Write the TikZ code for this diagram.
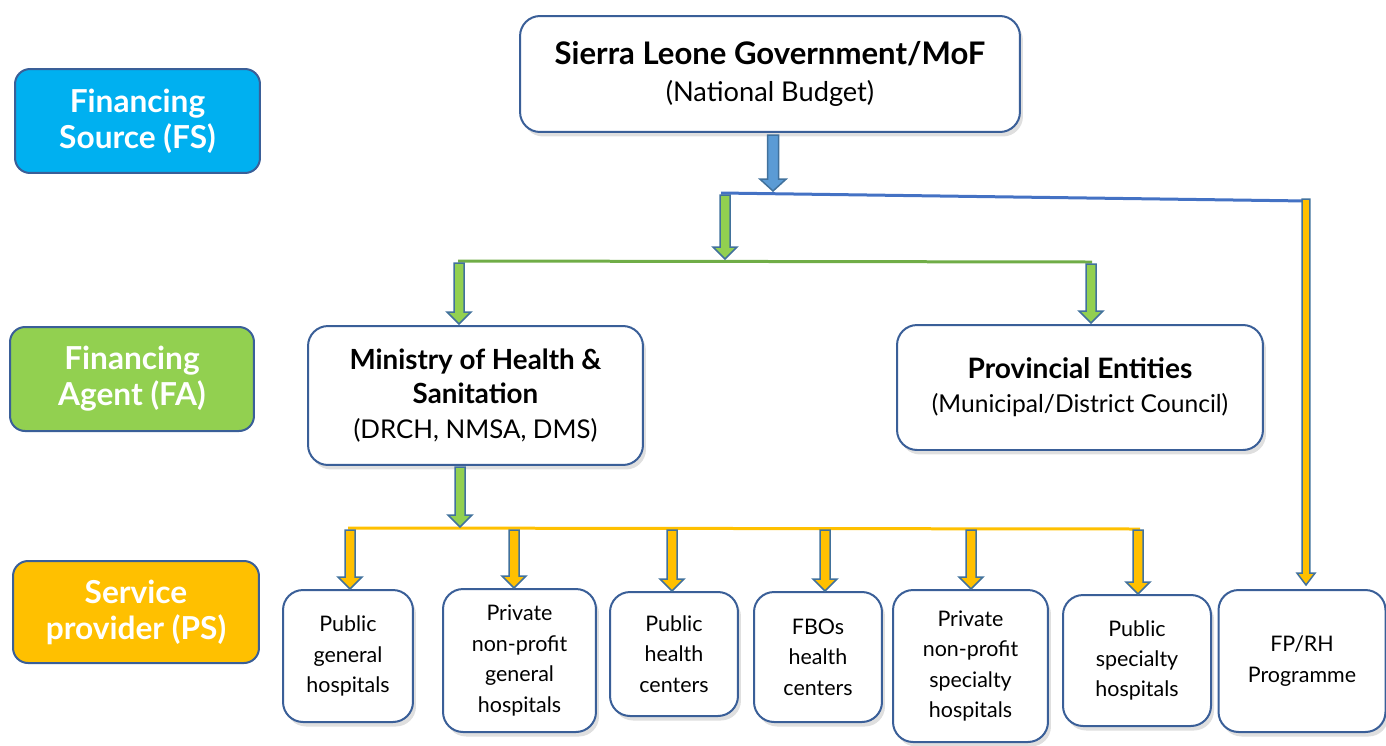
\documentclass[tikz,border=0pt]{standalone}
\usepackage{fontspec}
\setmainfont{Lato}
\usetikzlibrary{calc,shadows,positioning}
\definecolor{BoxEdge}{HTML}{3A5F98}
\definecolor{ArrowEdge}{HTML}{41719C}
\definecolor{FSBlue}{HTML}{00B0F0}
\definecolor{FAGreen}{HTML}{92D050}
\definecolor{PSGold}{HTML}{FFC000}
\definecolor{FlowBlue}{HTML}{5B9BD5}
\definecolor{LineBlue}{HTML}{4472C4}
\definecolor{LineGreen}{HTML}{70AD47}
\tikzset{
    box/.style = {draw=BoxEdge, line width=0.04cm, fill=white,
        rounded corners=0.4cm, align=center,
        drop shadow={shadow xshift=0.06cm, shadow yshift=-0.09cm, opacity=0.25}},
    tag/.style = {draw=BoxEdge, line width=0.04cm, rounded corners=0.3cm,
        align=center, text=white, font=\fontsize{18}{20.5}\selectfont\bfseries},
    trunk/.style = {line width=0.06cm},
    arrowedge/.style = {draw=ArrowEdge, line width=0.03cm, line join=miter}
}
% block arrow: fill, half shaft width, from, to
\newcommand{\fatarrow}[4]{%
    \draw[arrowedge, fill=#1] ($(#3)+(-#2,0)$) -- ($(#3)+(#2,0)$) -- ($(#4)+(#2,-12)$)
        -- ($(#4)+({2.4*#2},-12)$) -- (#4) -- ($(#4)+({-2.4*#2},-12)$) -- ($(#4)+(-#2,-12)$) -- cycle;
}

\begin{document}
\begin{tikzpicture}[x=0.02cm, y=-0.02cm]
    \useasboundingbox (0,0) rectangle (1386,745);
    % level tags on the left
    \node[tag, fill=FSBlue, minimum width=4.9cm, minimum height=2.08cm] (fs) at (137.5,121) {Financing\\Source (FS)};
    \node[tag, fill=FAGreen, minimum width=4.88cm, minimum height=2.08cm] (fa) at (132,379) {Financing\\Agent (FA)};
    \node[tag, fill=PSGold, minimum width=4.92cm, minimum height=2.04cm] (ps) at (136,612) {Service\\provider (PS)};

    \node[box, minimum width=10cm, minimum height=2.32cm, font=\fontsize{15.5}{21.5}\selectfont] (gov) at (770,74)
        {\textbf{\fontsize{17.7}{21.5}\selectfont Sierra Leone Government/MoF}\\(National Budget)};
    \node[box, minimum width=6.7cm, minimum height=2.78cm, font=\fontsize{14.7}{19.5}\selectfont] (moh) at (475.5,395.5)
        {\textbf{\fontsize{15.8}{19.5}\selectfont Ministry of Health \&}\\\textbf{\fontsize{15.8}{19.5}\selectfont Sanitation}\\(DRCH, NMSA, DMS)};
    \node[box, minimum width=7.32cm, minimum height=2.5cm, font=\fontsize{14}{19.5}\selectfont] (prov) at (1080,387.5)
        {\textbf{\fontsize{16}{19.5}\selectfont Provincial Entities}\\(Municipal/District Council)};

    % service providers
    \foreach \a/\cx/\cy/\w/\h/\txt in {
        1/348/656/2.6/2.64/{Public\\general\\hospitals},
        2/519.5/660.5/3.06/2.86/{Private\\non-profit\\general\\hospitals},
        3/674/654/2.56/2.48/{Public\\health\\centers},
        4/818/657/2.56/2.6/{FBOs\\health\\centers},
        5/970.5/666/3.1/3.04/{Private\\non-profit\\specialty\\hospitals},
        6/1137/660.5/2.96/2.62/{Public\\specialty\\hospitals},
        7/1302/661/3.34/2.84/{FP/RH\\Programme}}{
        \node[box, minimum width=\w cm, minimum height=\h cm, font=\fontsize{12.2}{17.3}\selectfont] (sp\a) at (\cx,\cy) {\txt};
    }

    % branch lines
    \coordinate (bl) at (721,193);
    \coordinate (br) at (1307,201);
    \coordinate (gl) at (458,261);
    \coordinate (gr) at (1092,262);
    \coordinate (yl) at (348,528);
    \coordinate (yr) at (1140,529);
    \draw[trunk, LineBlue] (bl) -- (br);
    \draw[trunk, LineGreen] (gl) -- (gr);
    \draw[trunk, PSGold] (yl) -- (yr);

    % flows
    \coordinate (govout) at (773,135);
    \coordinate (govin) at (773,191);
    \fatarrow{FlowBlue}{5.5}{govout}{govin}
    \coordinate (fain) at (725,195);
    \coordinate (faout) at (725,259);
    \fatarrow{FAGreen}{5}{fain}{faout}
    \coordinate (mohin) at (459,263);
    \coordinate (mohtop) at (459,324);
    \fatarrow{FAGreen}{5}{mohin}{mohtop}
    \coordinate (provin) at (1091,264);
    \coordinate (provtop) at (1091,323);
    \fatarrow{FAGreen}{5}{provin}{provtop}
    \coordinate (mohout) at (460,467);
    \coordinate (spin) at (460,527);
    \fatarrow{FAGreen}{5}{mohout}{spin}
    \foreach \a/\px in {1/350,2/514,3/672,4/825,5/971,6/1138}{
        \coordinate (tap\a) at (\px,530);
        \coordinate (top\a) at (tap\a |- sp\a.north);
        \fatarrow{PSGold}{5}{tap\a}{top\a}
    }
    \coordinate (fpin) at (1306,199);
    \coordinate (fptop) at (1306,585);
    \fatarrow{PSGold}{3.8}{fpin}{fptop}
\end{tikzpicture}
\end{document}
